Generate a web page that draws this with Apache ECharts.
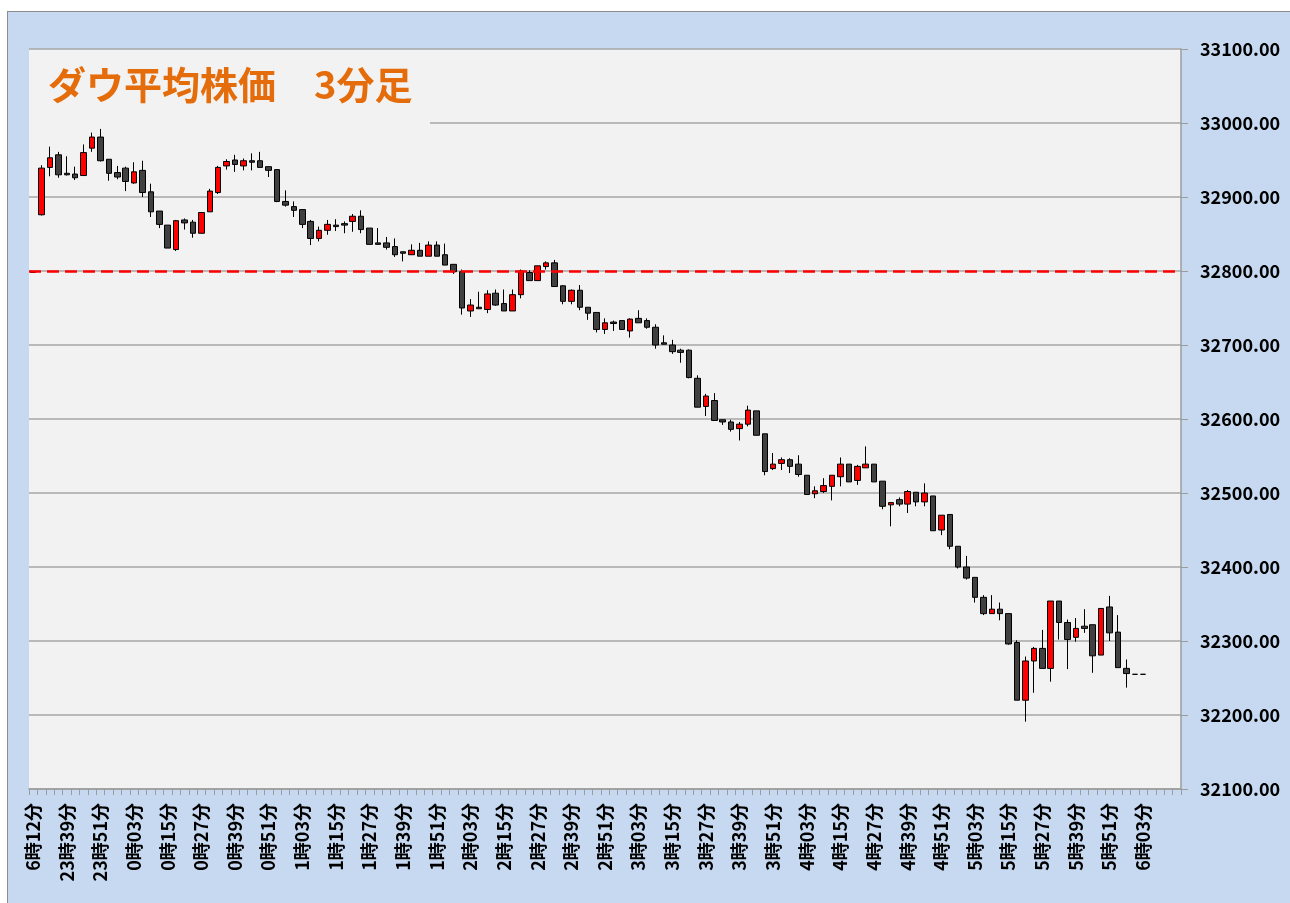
<!DOCTYPE html>
<html>
<head>
<meta charset="utf-8">
<script src="https://cdn.jsdelivr.net/npm/echarts@6/dist/echarts.min.js"></script>
<style>
  html, body { margin: 0; padding: 0; background: #ffffff; }
  #chart {
    position: absolute; left: 7px; top: 11px;
    width: 1282px; height: 891px;
    border-left: 1px solid #8c8c8c; border-top: 1px solid #8c8c8c;
  }
</style>
</head>
<body>
<div id="chart"></div>
<script>
// 3分足の時刻 (先頭は前日終値 6時12分)
const categories = [
  '6時12分',
  '23時30分','23時33分','23時36分','23時39分','23時42分','23時45分','23時48分','23時51分','23時54分','23時57分',
  '0時00分','0時03分','0時06分','0時09分','0時12分','0時15分','0時18分','0時21分','0時24分','0時27分',
  '0時30分','0時33分','0時36分','0時39分','0時42分','0時45分','0時48分','0時51分','0時54分','0時57分',
  '1時00分','1時03分','1時06分','1時09分','1時12分','1時15分','1時18分','1時21分','1時24分','1時27分',
  '1時30分','1時33分','1時36分','1時39分','1時42分','1時45分','1時48分','1時51分','1時54分','1時57分',
  '2時00分','2時03分','2時06分','2時09分','2時12分','2時15分','2時18分','2時21分','2時24分','2時27分',
  '2時30分','2時33分','2時36分','2時39分','2時42分','2時45分','2時48分','2時51分','2時54分','2時57分',
  '3時00分','3時03分','3時06分','3時09分','3時12分','3時15分','3時18分','3時21分','3時24分','3時27分',
  '3時30分','3時33分','3時36分','3時39分','3時42分','3時45分','3時48分','3時51分','3時54分','3時57分',
  '4時00分','4時03分','4時06分','4時09分','4時12分','4時15分','4時18分','4時21分','4時24分','4時27分',
  '4時30分','4時33分','4時36分','4時39分','4時42分','4時45分','4時48分','4時51分','4時54分','4時57分',
  '5時00分','5時03分','5時06分','5時09分','5時12分','5時15分','5時18分','5時21分','5時24分','5時27分',
  '5時30分','5時33分','5時36分','5時39分','5時42分','5時45分','5時48分','5時51分','5時54分','5時57分',
  '6時00分','6時03分',
  '', '', '', ''
];

const opens = [
  32798, 32876, 32940, 32957, 32932, 32931, 32929, 32966, 32981, 32951,
  32933, 32939, 32919, 32936, 32907, 32881, 32862, 32829, 32869, 32866,
  32851, 32880, 32906, 32942, 32950, 32942, 32949, 32949, 32941, 32937,
  32894, 32887, 32883, 32867, 32844, 32855, 32862, 32864, 32867, 32874,
  32858, 32838, 32838, 32833, 32826, 32822, 32828, 32820, 32835, 32822,
  32809, 32799, 32746, 32751, 32748, 32770, 32756, 32746, 32768, 32798,
  32787, 32806, 32811, 32780, 32759, 32774, 32751, 32744, 32721, 32731,
  32733, 32719, 32736, 32733, 32724, 32703, 32700, 32693, 32693, 32655,
  32617, 32625, 32599, 32596, 32587, 32593, 32611, 32580, 32533, 32540,
  32545, 32539, 32524, 32499, 32502, 32509, 32522, 32539, 32517, 32534,
  32539, 32516, 32484, 32491, 32485, 32501, 32488, 32496, 32450, 32471,
  32428, 32400, 32386, 32359, 32337, 32343, 32337, 32298, 32220, 32273,
  32290, 32263, 32354, 32325, 32305, 32320, 32322, 32281, 32346, 32312,
  32263, 32255, 32255
];
const closes = [
  32798, 32939, 32953, 32930, 32930, 32926, 32960, 32981, 32949, 32932,
  32927, 32921, 32934, 32906, 32880, 32863, 32831, 32868, 32865, 32851,
  32879, 32908, 32940, 32948, 32944, 32949, 32947, 32940, 32936, 32894,
  32889, 32882, 32863, 32844, 32855, 32863, 32860, 32862, 32874, 32856,
  32836, 32836, 32832, 32822, 32824, 32828, 32820, 32835, 32820, 32808,
  32799, 32750, 32754, 32749, 32769, 32754, 32746, 32768, 32800, 32787,
  32807, 32811, 32779, 32759, 32774, 32751, 32743, 32721, 32730, 32729,
  32721, 32735, 32730, 32724, 32700, 32701, 32691, 32690, 32656, 32616,
  32631, 32598, 32596, 32586, 32593, 32612, 32578, 32529, 32539, 32545,
  32536, 32525, 32498, 32503, 32510, 32524, 32539, 32515, 32536, 32539,
  32515, 32482, 32487, 32485, 32502, 32488, 32500, 32449, 32470, 32428,
  32400, 32385, 32359, 32337, 32343, 32337, 32296, 32220, 32273, 32290,
  32263, 32354, 32325, 32302, 32317, 32317, 32280, 32344, 32311, 32264,
  32256, 32255, 32255
];
const lows = [
  32798, 32875, 32928, 32926, 32929, 32923, 32929, 32961, 32948, 32922,
  32924, 32908, 32918, 32900, 32873, 32858, 32831, 32827, 32856, 32845,
  32851, 32880, 32904, 32937, 32934, 32936, 32936, 32940, 32927, 32893,
  32887, 32873, 32858, 32835, 32840, 32849, 32854, 32851, 32853, 32851,
  32836, 32836, 32829, 32819, 32813, 32822, 32820, 32820, 32820, 32808,
  32796, 32741, 32738, 32749, 32743, 32753, 32746, 32746, 32763, 32787,
  32787, 32802, 32779, 32755, 32755, 32747, 32734, 32717, 32715, 32719,
  32721, 32710, 32730, 32722, 32695, 32701, 32688, 32676, 32655, 32616,
  32604, 32598, 32592, 32583, 32571, 32590, 32578, 32524, 32531, 32531,
  32527, 32522, 32498, 32493, 32500, 32490, 32509, 32515, 32511, 32534,
  32515, 32478, 32455, 32482, 32473, 32482, 32482, 32449, 32443, 32424,
  32398, 32383, 32352, 32335, 32337, 32328, 32295, 32220, 32191, 32230,
  32263, 32245, 32302, 32262, 32299, 32311, 32257, 32281, 32300, 32264,
  32237, 32255, 32255
];
const highs = [
  32798, 32943, 32968, 32961, 32955, 32941, 32971, 32987, 32992, 32951,
  32942, 32941, 32947, 32949, 32918, 32881, 32862, 32869, 32871, 32869,
  32879, 32911, 32942, 32951, 32957, 32952, 32959, 32961, 32941, 32937,
  32909, 32894, 32883, 32869, 32860, 32869, 32870, 32867, 32877, 32882,
  32858, 32858, 32846, 32844, 32826, 32836, 32838, 32840, 32840, 32837,
  32809, 32802, 32762, 32772, 32774, 32775, 32775, 32775, 32802, 32801,
  32807, 32813, 32815, 32781, 32775, 32781, 32751, 32744, 32736, 32733,
  32733, 32736, 32747, 32736, 32728, 32713, 32707, 32695, 32694, 32659,
  32634, 32635, 32599, 32599, 32596, 32618, 32611, 32580, 32554, 32548,
  32547, 32551, 32524, 32509, 32520, 32524, 32548, 32539, 32538, 32563,
  32539, 32516, 32487, 32494, 32504, 32501, 32513, 32496, 32470, 32471,
  32428, 32415, 32386, 32362, 32362, 32352, 32337, 32301, 32279, 32292,
  32315, 32354, 32354, 32329, 32331, 32343, 32322, 32344, 32361, 32335,
  32275, 32255, 32255
];

const prevClose = 32800;
const yMin = 32100;
const yMax = 33100;
const yStep = 100;

const candles = opens.map((o, i) => [o, closes[i], lows[i], highs[i]]);

const chart = echarts.init(document.getElementById('chart'));

const option = {
  animation: false,
  backgroundColor: '#c6d9f0',
  title: {
    text: 'ダウ平均株価　3分足',
    left: 40,
    top: 54,
    padding: 0,
    z: 20,
    textStyle: {
      color: '#e46c0a',
      fontSize: 38,
      fontWeight: 'bold',
      fontFamily: 'Noto Sans CJK JP'
    }
  },
  graphic: [{
    type: 'rect',
    left: 21,
    top: 38,
    z: 1,
    shape: { width: 401, height: 75 },
    style: { fill: '#f2f2f2' }
  }],
  grid: {
    left: 21,
    right: 109,
    top: 37,
    bottom: 114,
    show: true,
    backgroundColor: '#f2f2f2',
    borderWidth: 0
  },
  xAxis: {
    type: 'category',
    data: categories,
    boundaryGap: true,
    axisLine: { lineStyle: { color: '#9c9c9c', width: 1.5 } },
    axisTick: { show: true, interval: 0, length: 6, lineStyle: { color: '#9c9c9c' } },
    axisLabel: {
      interval: 3,
      rotate: 90,
      margin: 14,
      color: '#000',
      fontSize: 18,
      fontWeight: 'bold',
      fontFamily: 'Noto Sans CJK JP'
    },
    splitLine: { show: false }
  },
  yAxis: {
    type: 'value',
    position: 'right',
    min: yMin,
    max: yMax,
    interval: yStep,
    axisLine: { show: true, lineStyle: { color: '#9c9c9c', width: 1.5 } },
    axisTick: { show: true, length: 7, lineStyle: { color: '#9c9c9c' } },
    axisLabel: {
      margin: 19,
      color: '#000',
      fontSize: 18,
      fontWeight: 'bold',
      fontFamily: 'Noto Sans CJK JP',
      formatter: (v) => v.toFixed(2)
    },
    splitLine: { lineStyle: { color: '#a6a6a6', width: 1.5 } }
  },
  series: [{
    type: 'candlestick',
    data: candles,
    barWidth: 6,
    itemStyle: {
      color: '#ff0000',
      color0: '#404040',
      borderColor: '#000000',
      borderColor0: '#000000',
      borderWidth: 1
    },
    markLine: {
      silent: true,
      symbol: 'none',
      label: { show: false },
      lineStyle: { color: '#ff0000', width: 2.5, type: [12, 6] },
      data: [{ yAxis: prevClose }]
    }
  }]
};

chart.setOption(option);
</script>
</body>
</html>
